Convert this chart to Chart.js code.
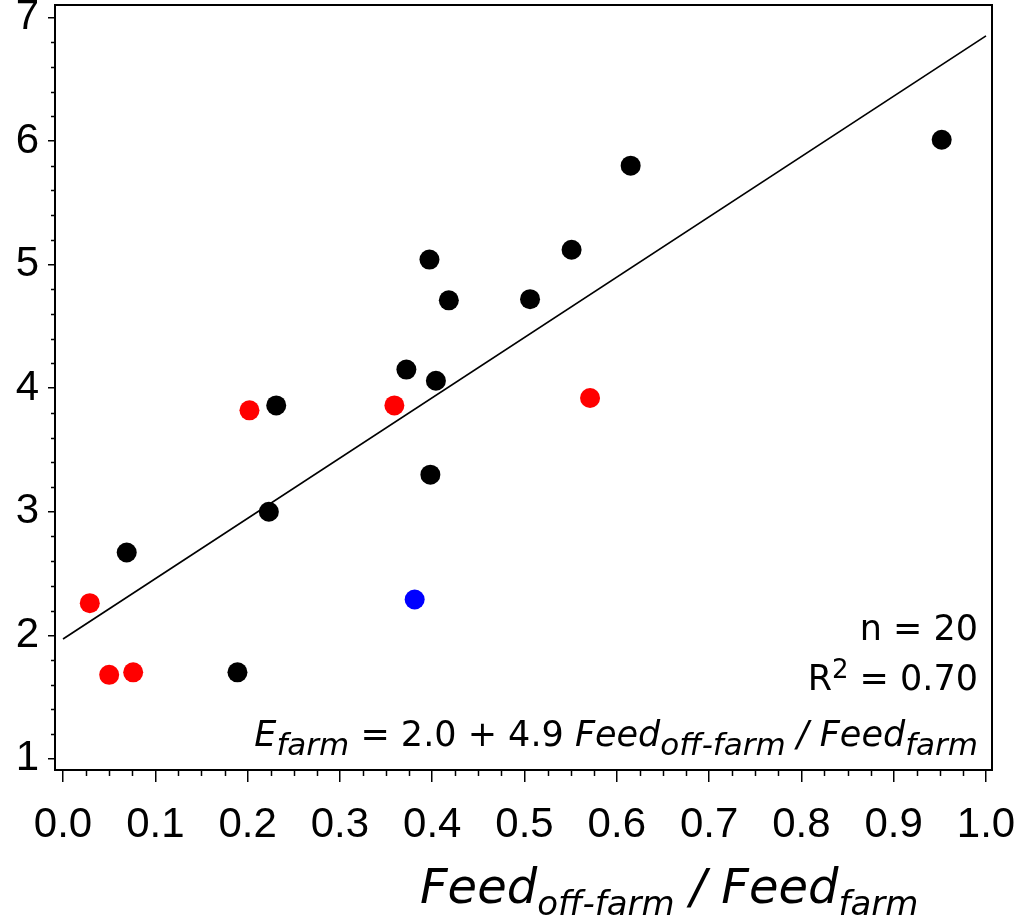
<!DOCTYPE html>
<html>
<head>
<meta charset="utf-8">
<script src="https://cdn.jsdelivr.net/npm/chart.js@4/dist/chart.umd.min.js"></script>
<style>
  html, body { margin: 0; padding: 0; background: #fff; }
  #wrap { width: 1027px; height: 920px; }
</style>
</head>
<body>
<div id="wrap"><canvas id="c" width="1027" height="920"></canvas></div>
<script>
// Axis tick labels
const xTickValues = [0.0, 0.1, 0.2, 0.3, 0.4, 0.5, 0.6, 0.7, 0.8, 0.9, 1.0];
const yTickValues = [1, 2, 3, 4, 5, 6, 7];

// Feed_off-farm / Feed_farm  vs  E_farm, per farm group
const blackX = [0.069, 0.189, 0.223, 0.231, 0.372, 0.398, 0.404, 0.397, 0.418, 0.506, 0.551, 0.615, 0.952];
const blackY = [2.67, 1.70, 3.00, 3.86, 4.15, 3.30, 4.06, 5.04, 4.71, 4.72, 5.12, 5.80, 6.01];
const redX = [0.029, 0.050, 0.076, 0.202, 0.359, 0.571];
const redY = [2.26, 1.68, 1.70, 3.82, 3.86, 3.92];
const blueX = [0.381];
const blueY = [2.29];

// Linear fit  E_farm = a + b * ratio
const fitIntercept = 1.97;
const fitSlope = 4.88;
const fitRange = [0.0, 1.0];
const rSquared = 0.70;

const pts = (xs, ys) => xs.map((x, i) => ({ x: x, y: ys[i] }));
const nPoints = blackX.length + redX.length + blueX.length;

const AXIS_FONT = "'Liberation Sans', Arial, sans-serif";
const TEXT_FONT = "'DejaVu Sans', Verdana, sans-serif";

// Draw a run of mixed upright / italic / subscript / superscript text
function drawRich(ctx, runs, x, y, align) {
  const measured = runs.map(r => {
    ctx.font = (r.italic ? 'italic ' : '') + r.size + 'px ' + TEXT_FONT;
    return ctx.measureText(r.t).width;
  });
  const total = measured.reduce((a, b) => a + b, 0);
  let cx = align === 'right' ? x - total : x;
  ctx.save();
  ctx.fillStyle = '#000';
  ctx.textBaseline = 'alphabetic';
  ctx.textAlign = 'left';
  runs.forEach((r, i) => {
    ctx.font = (r.italic ? 'italic ' : '') + r.size + 'px ' + TEXT_FONT;
    ctx.fillText(r.t, cx, y + (r.dy || 0));
    cx += measured[i];
  });
  ctx.restore();
}

const framePlugin = {
  id: 'frameAndMinor',
  afterDraw(chart) {
    const ctx = chart.ctx;
    const a = chart.chartArea;
    const xs = chart.scales.x, ys = chart.scales.y;
    ctx.save();
    ctx.strokeStyle = '#000';
    ctx.lineWidth = 2;
    ctx.strokeRect(a.left, a.top, a.right - a.left, a.bottom - a.top);

    // minor ticks
    ctx.lineWidth = 1.5;
    ctx.beginPath();
    for (let k = 1; k < 40; k++) {
      if (k % 4 === 0) continue;
      const px = Math.round(xs.getPixelForValue(k * 0.025)) + 0.5;
      ctx.moveTo(px, a.bottom);
      ctx.lineTo(px, a.bottom + 6);
    }
    for (let k = 1; k < 30; k++) {
      if (k % 5 === 0) continue;
      const py = Math.round(ys.getPixelForValue(1 + k * 0.2)) + 0.5;
      ctx.moveTo(a.left, py);
      ctx.lineTo(a.left - 4, py);
    }
    ctx.stroke();
    ctx.restore();
  }
};

const textPlugin = {
  id: 'annotations',
  afterDraw(chart) {
    const ctx = chart.ctx;
    const a = chart.chartArea;
    const S = 35, s = 31, sup = 26, sub = 9;
    const rx = a.right - 14;
    drawRich(ctx, [{ t: 'n = ' + nPoints, size: S }], rx, 640, 'right');
    drawRich(ctx, [
      { t: 'R', size: S },
      { t: '2', size: sup, dy: -12 },
      { t: ' = ' + rSquared.toFixed(2), size: S }
    ], rx, 690, 'right');
    drawRich(ctx, [
      { t: 'E', size: S, italic: true },
      { t: 'farm', size: s, italic: true, dy: sub },
      { t: ' = ' + fitIntercept.toFixed(1) + ' + ' + fitSlope.toFixed(1) + ' ', size: S },
      { t: 'Feed', size: S, italic: true },
      { t: 'off-farm', size: s, italic: true, dy: sub },
      { t: ' / ', size: S, italic: true },
      { t: 'Feed', size: S, italic: true },
      { t: 'farm', size: s, italic: true, dy: sub }
    ], rx, 746, 'right');

    // x-axis title
    const T = 48, t = 34, tsub = 12;
    drawRich(ctx, [
      { t: 'Feed', size: T, italic: true },
      { t: 'off-farm', size: t, italic: true, dy: tsub },
      { t: ' / ', size: T, italic: true },
      { t: 'Feed', size: T, italic: true },
      { t: 'farm', size: t, italic: true, dy: tsub }
    ], 420, 903, 'left');
  }
};

new Chart(document.getElementById('c'), {
  type: 'scatter',
  data: {
    datasets: [
      {
        type: 'line',
        data: fitRange.map(x => ({ x: x, y: fitIntercept + fitSlope * x })),
        borderColor: '#000',
        borderWidth: 1.7,
        pointRadius: 0,
        fill: false,
        order: 10
      },
      { data: pts(blackX, blackY), backgroundColor: '#000', borderWidth: 0, pointRadius: 10, order: 1 },
      { data: pts(redX, redY), backgroundColor: '#ff0000', borderWidth: 0, pointRadius: 10, order: 1 },
      { data: pts(blueX, blueY), backgroundColor: '#0000ff', borderWidth: 0, pointRadius: 10, order: 1 }
    ]
  },
  options: {
    responsive: false,
    animation: false,
    layout: { autoPadding: false, padding: { top: 5, right: 35, left: 0, bottom: 0 } },
    plugins: { legend: { display: false }, tooltip: { enabled: false } },
    scales: {
      x: {
        type: 'linear',
        min: -0.0087,
        max: 1.0065,
        afterBuildTicks: sc => { sc.ticks = xTickValues.map(v => ({ value: v })); },
        afterFit: sc => { sc.height = 150; sc.paddingLeft = 0; sc.paddingRight = 0; },
        ticks: {
          callback: v => Number(v).toFixed(1),
          font: { family: AXIS_FONT, size: 42 },
          color: '#000',
          padding: 18,
          maxRotation: 0,
          autoSkip: false
        },
        grid: { drawOnChartArea: false, drawTicks: true, tickLength: 12, color: '#000', lineWidth: 1.5 },
        border: { display: true, color: '#000', width: 2 }
      },
      y: {
        type: 'linear',
        min: 0.91,
        max: 7.1,
        afterBuildTicks: sc => { sc.ticks = yTickValues.map(v => ({ value: v })); },
        afterFit: sc => { sc.width = 55; sc.paddingTop = 0; sc.paddingBottom = 0; },
        ticks: {
          callback: v => String(v),
          font: { family: AXIS_FONT, size: 42 },
          color: '#000',
          padding: 9,
          autoSkip: false
        },
        grid: { drawOnChartArea: false, drawTicks: true, tickLength: 7, color: '#000', lineWidth: 1.5 },
        border: { display: true, color: '#000', width: 2 }
      }
    }
  },
  plugins: [framePlugin, textPlugin]
});
</script>
</body>
</html>
